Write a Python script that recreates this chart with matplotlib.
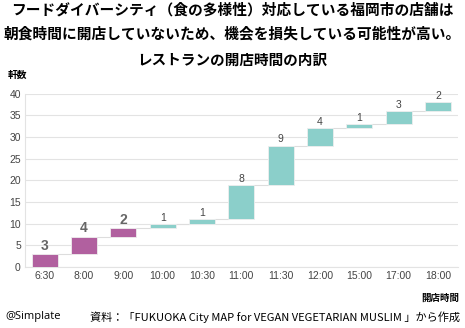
import matplotlib
matplotlib.use("Agg")
import matplotlib.pyplot as plt
import numpy as np

plt.rcParams['font.family'] = ['Noto Sans CJK JP', 'DejaVu Sans']

categories = ["6:30", "8:00", "9:00", "10:00", "10:30", "11:00", "11:30", "12:00", "15:00", "17:00", "18:00"]
counts = [3, 4, 2, 1, 1, 8, 9, 4, 1, 3, 2]
highlight = [True, True, True, False, False, False, False, False, False, False, False]
yticks = [0, 5, 10, 15, 20, 25, 30, 35, 40]

purple = "#B1609F"
teal = "#8BCFCA"

fig = plt.figure(figsize=(4.65, 3.28), dpi=100)
W, H = 465, 328
ax = fig.add_axes([25 / W, 1 - 267 / H, (457.7 - 25) / W, (267 - 93.5) / H])

x = np.arange(len(categories))
counts_arr = np.array(counts)
tops = np.cumsum(counts_arr)
bottoms = tops - counts_arr
colors = [purple if h else teal for h in highlight]
bw = 0.66
ax.bar(x, counts_arr, bottom=bottoms, width=bw, color=colors, edgecolor="#eeeeee", linewidth=0.6, zorder=3)

# connectors
for i in range(len(x) - 1):
    ax.plot([x[i] + bw / 2, x[i + 1] - bw / 2], [tops[i], tops[i]], color="#dddddd", lw=0.8, zorder=2)

for i, (t, c, h) in enumerate(zip(tops, counts, highlight)):
    if h:
        ax.text(x[i], t + 0.3, str(c), ha="center", va="bottom", fontsize=10, fontweight="bold",
                color="#666666", family=["Liberation Sans", "DejaVu Sans"])
    else:
        ax.text(x[i], t + 0.25, str(c), ha="center", va="bottom", fontsize=7.5,
                color="#444444", family=["Liberation Sans", "DejaVu Sans"])

ax.set_xlim(-0.5, len(categories) - 0.5)
ax.set_ylim(0, 40)
ax.set_yticks(yticks)
ax.set_xticks(x)
ax.set_xticklabels(categories)
for lab in ax.get_xticklabels() + ax.get_yticklabels():
    lab.set_family(["Liberation Sans", "DejaVu Sans"])
    lab.set_fontsize(7.5)
    lab.set_color("#444444")
ax.tick_params(length=0, pad=3)
ax.grid(axis="y", color="#e3e3e3", lw=0.8, zorder=0)
for s in ["top", "right"]:
    ax.spines[s].set_visible(False)
ax.spines["left"].set_color("#e3e3e3")
ax.spines["bottom"].set_color("#e3e3e3")
ax.set_axisbelow(True)

fig.text(0.5, 1 - 10 / H, "フードダイバーシティ（食の多様性）対応している福岡市の店舗は", ha="center", va="center",
         fontsize=10.6, fontweight="bold")
fig.text(0.5, 1 - 33 / H, "朝食時間に開店していないため、機会を損失している可能性が高い。", ha="center", va="center",
         fontsize=10.6, fontweight="bold")
fig.text(0.5, 1 - 60 / H, "レストランの開店時間の内訳", ha="center", va="center", fontsize=10.5, fontweight="bold")
fig.text(8 / W, 1 - 75 / H, "軒数", ha="left", va="center", fontsize=7, fontweight="bold")
fig.text(459 / W, 1 - 298 / H, "開店時間", ha="right", va="center", fontsize=6.8, fontweight="bold")
fig.text(5 / W, 1 - 317 / H, "@Simplate", ha="left", va="center", fontsize=8,
         family=["Open Sans", "Noto Sans CJK JP"])
fig.text(460 / W, 1 - 317 / H, "資料：「FUKUOKA City MAP for VEGAN VEGETARIAN MUSLIM 」から作成", ha="right", va="center",
         fontsize=8)

fig.savefig("out.png", dpi=100, facecolor="white")
